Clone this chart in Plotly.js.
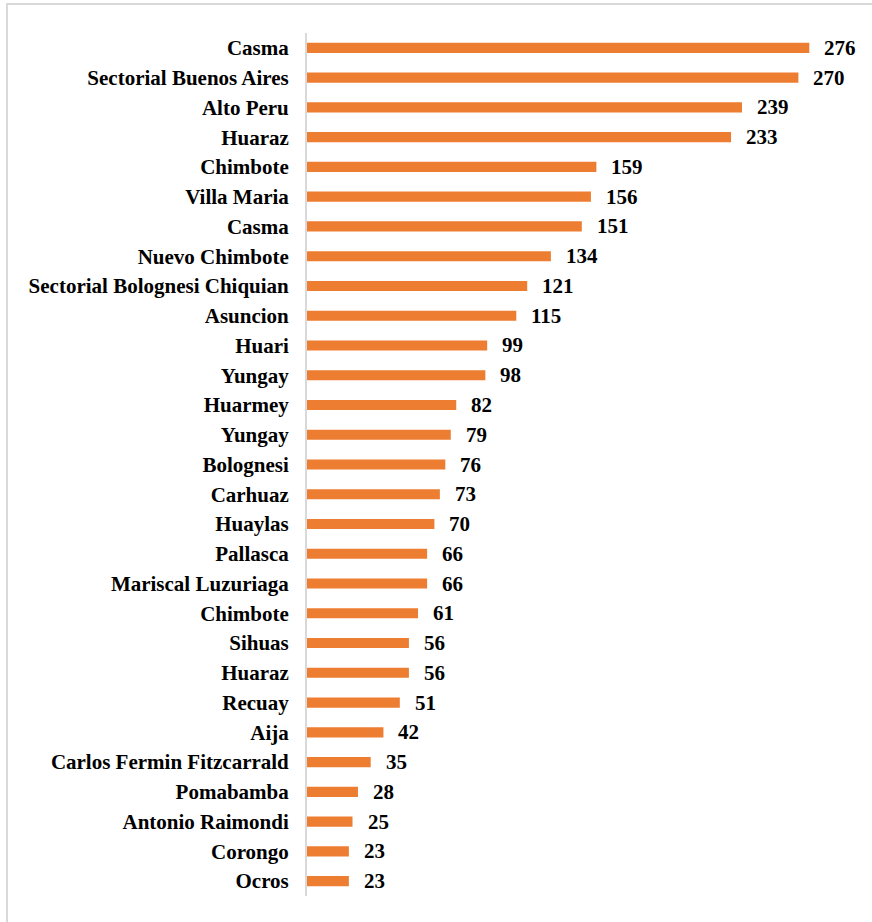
<!DOCTYPE html>
<html>
<head>
<meta charset="utf-8">
<script src="https://cdn.plot.ly/plotly-3.0.1.min.js"></script>
<style>
html,body{margin:0;padding:0;width:872px;height:922px;overflow:hidden;background:#fff;}
#frame{position:absolute;left:6px;top:3px;width:900px;height:960px;border:2px solid #d9d9d9;box-sizing:border-box;pointer-events:none;z-index:5;}
#chart{position:absolute;left:0;top:0;width:872px;height:922px;}
</style>
</head>
<body>
<div id="chart"></div>
<div id="frame"></div>
<script>
const categories = ["Casma","Sectorial Buenos Aires","Alto Peru","Huaraz","Chimbote","Villa Maria","Casma","Nuevo Chimbote","Sectorial Bolognesi Chiquian","Asuncion","Huari","Yungay","Huarmey","Yungay","Bolognesi","Carhuaz","Huaylas","Pallasca","Mariscal Luzuriaga","Chimbote","Sihuas","Huaraz","Recuay","Aija","Carlos Fermin Fitzcarrald","Pomabamba","Antonio Raimondi","Corongo","Ocros"];
const values = [276,270,239,233,159,156,151,134,121,115,99,98,82,79,76,73,70,66,66,61,56,56,51,42,35,28,25,23,23];

const idx = categories.map((c,i)=>i);
const fontFamily = 'Times New Roman, Liberation Serif, DejaVu Serif, serif';

const trace = {
  type:'bar', orientation:'h',
  x: values, y: idx,
  marker:{color:'#ED7D31'},
  width:0.34,
  hoverinfo:'none'
};

const annotations = values.map((v,i)=>({
  x:v, y:i, xref:'x', yref:'y',
  text:'<b>'+v+'</b>', showarrow:false,
  xanchor:'left', yanchor:'middle', xshift:13,
  font:{family:fontFamily, size:21, color:'#000'}
}));

const layout = {
  width:872, height:922,
  margin:{l:307, r:19, t:33, b:26, pad:0},
  paper_bgcolor:'#fff', plot_bgcolor:'#fff',
  showlegend:false,
  font:{family:fontFamily},
  xaxis:{range:[0,300], showgrid:false, zeroline:false, showline:false, showticklabels:false, ticks:''},
  yaxis:{range:[28.5,-0.5], tickvals:idx, ticktext:categories.map(c=>'<b>'+c+'</b>'),
    showgrid:false, zeroline:false, showline:true, linecolor:'#d9d9d9', linewidth:2,
    ticks:'outside', ticklen:12, tickcolor:'rgba(0,0,0,0)',
    tickfont:{family:fontFamily, size:21, color:'#000'}},
  annotations: annotations
};

Plotly.newPlot('chart',[trace],layout,{displayModeBar:false, staticPlot:true});
</script>
</body>
</html>
